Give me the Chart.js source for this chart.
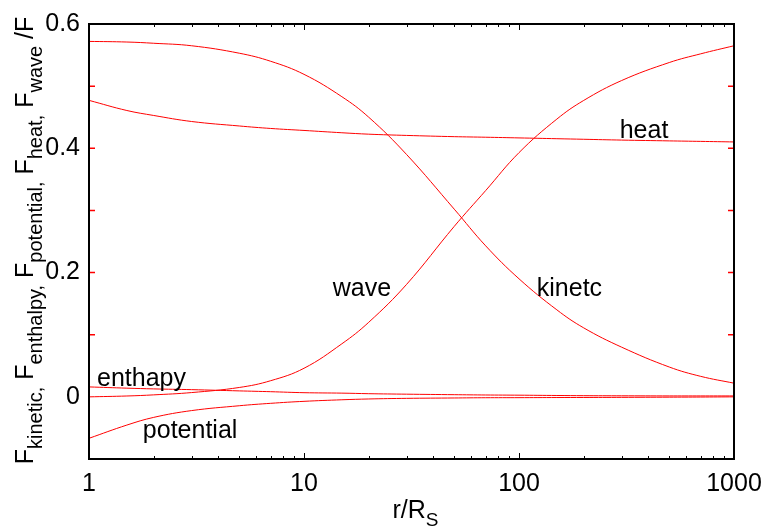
<!DOCTYPE html>
<html>
<head>
<meta charset="utf-8">
<script src="https://cdn.jsdelivr.net/npm/chart.js@4"></script>
<style>
  html, body { margin: 0; padding: 0; background: #fff; }
</style>
</head>
<body>
<canvas id="flux" width="772" height="531"></canvas>
<script>
// r / R_s sample points
const radius = [1, 1.5, 2, 3, 5, 7, 10, 15, 20, 30, 50, 70, 100, 150, 200, 300, 500, 700, 1000];
// energy flux fractions F_x / F
const waveFlux = [0.572, 0.571, 0.569, 0.565, 0.553, 0.540, 0.519, 0.483, 0.450, 0.390, 0.302, 0.243, 0.190, 0.140, 0.111, 0.080, 0.048, 0.033, 0.022];
const kineticFlux = [0.0, 0.0014, 0.0032, 0.0069, 0.0151, 0.026, 0.046, 0.0854, 0.120, 0.181, 0.2744, 0.332, 0.393, 0.447, 0.477, 0.509, 0.538, 0.552, 0.565];
const heatFlux = [0.4771, 0.4608, 0.4528, 0.4431, 0.4359, 0.4319, 0.4287, 0.4250, 0.4227, 0.4207, 0.4187, 0.4178, 0.4167, 0.4154, 0.4145, 0.4132, 0.4119, 0.4111, 0.4102];
const enthalpyFlux = [0.016, 0.014, 0.0128, 0.0116, 0.0096, 0.0083, 0.0067, 0.006, 0.0051, 0.0043, 0.0035, 0.003, 0.0027, 0.0022, 0.0019, 0.0017, 0.0015, 0.0015, 0.0015];
const potentialFlux = [-0.0667, -0.0454, -0.0330, -0.0221, -0.0143, -0.0104, -0.0072, -0.0047, -0.0034, -0.0024, -0.0018, -0.0014, -0.0013, -0.0011, -0.001, -0.0008, -0.0005, -0.0003, 0.0];

const xTicks = [1, 10, 100, 1000];
const yTicks = [0, 0.2, 0.4, 0.6];
const yMinorTicks = [0.1, 0.2, 0.3, 0.4, 0.5];

// curve labels: [text, r, flux]
const curveLabels = [
  ['heat', 294, 0.417],
  ['wave', 13.6, 0.163],
  ['kinetc', 121, 0.163],
  ['enthapy', 1.09, 0.0172],
  ['potential', 1.78, -0.0667]
];

const FONT = '"Liberation Sans", Arial, sans-serif';

function series(values) {
  return radius.map((r, i) => ({ x: r, y: values[i] }));
}

function line(values) {
  return {
    data: series(values),
    borderColor: '#ff0000',
    borderWidth: 1,
    pointRadius: 0,
    tension: 0.4,
    fill: false
  };
}

// text with subscripts: list of [normal, subscript] pairs, centred on 0
function drawSubText(ctx, parts, size, subSize, drop) {
  let w = 0;
  parts.forEach(([a, b]) => {
    ctx.font = size + 'px ' + FONT;
    w += ctx.measureText(a).width;
    ctx.font = subSize + 'px ' + FONT;
    w += ctx.measureText(b).width;
  });
  let x = -w / 2;
  parts.forEach(([a, b]) => {
    ctx.font = size + 'px ' + FONT;
    ctx.fillText(a, x, 0);
    x += ctx.measureText(a).width;
    ctx.font = subSize + 'px ' + FONT;
    ctx.fillText(b, x, drop);
    x += ctx.measureText(b).width;
  });
}

const decorations = {
  id: 'decorations',
  afterDatasetsDraw(chart) {
    const { ctx, chartArea: a, scales: { x, y } } = chart;
    ctx.save();

    // y ticks, inward on both sides
    ctx.strokeStyle = '#ff0000';
    ctx.lineWidth = 1.5;
    yMinorTicks.forEach(v => {
      const py = y.getPixelForValue(v);
      ctx.beginPath();
      ctx.moveTo(a.left, py); ctx.lineTo(a.left + 6, py);
      ctx.moveTo(a.right, py); ctx.lineTo(a.right - 6, py);
      ctx.stroke();
    });

    // x ticks, log decades with minor marks
    ctx.strokeStyle = '#000';
    ctx.lineWidth = 1;
    for (let d = 1; d <= 1000; d *= 10) {
      for (let k = 1; k <= 9; k++) {
        const v = d * k;
        if (v > 1000) break;
        const px = Math.round(x.getPixelForValue(v)) + 0.5;
        const len = k === 1 ? 6 : 3;
        ctx.beginPath();
        ctx.moveTo(px, a.bottom); ctx.lineTo(px, a.bottom - len);
        ctx.moveTo(px, a.top); ctx.lineTo(px, a.top + len);
        ctx.stroke();
      }
    }

    // frame
    ctx.lineWidth = 2;
    ctx.strokeRect(a.left, a.top, a.right - a.left, a.bottom - a.top);

    // curve labels
    ctx.fillStyle = '#000';
    ctx.font = '25px ' + FONT;
    ctx.textBaseline = 'alphabetic';
    ctx.textAlign = 'left';
    curveLabels.forEach(([t, r, f]) => {
      ctx.fillText(t, x.getPixelForValue(r), y.getPixelForValue(f));
    });

    // x axis title
    ctx.save();
    ctx.translate((a.left + a.right) / 2 + 4, 518);
    drawSubText(ctx, [['r/R', 'S']], 25, 19, 8);
    ctx.restore();

    // y axis title
    ctx.save();
    ctx.translate(33, (a.top + a.bottom) / 2 - 1);
    ctx.rotate(-Math.PI / 2);
    drawSubText(ctx, [
      ['F', 'kinetic,'],
      [' F', 'enthalpy,'],
      [' F', 'potential,'],
      [' F', 'heat,'],
      [' F', 'wave'],
      [' /F', '']
    ], 25, 20, 9);
    ctx.restore();

    ctx.restore();
  }
};

new Chart(document.getElementById('flux').getContext('2d'), {
  type: 'line',
  data: {
    datasets: [
      line(waveFlux),
      line(kineticFlux),
      line(heatFlux),
      line(enthalpyFlux),
      line(potentialFlux)
    ]
  },
  options: {
    responsive: false,
    animation: false,
    layout: { padding: { top: 23, right: 38, left: 0, bottom: 0 } },
    plugins: {
      legend: { display: false },
      tooltip: { enabled: false }
    },
    scales: {
      x: {
        type: 'logarithmic',
        min: 1,
        max: 1000,
        grid: { display: false, drawTicks: false },
        border: { display: false },
        afterBuildTicks: s => { s.ticks = xTicks.map(v => ({ value: v })); },
        afterFit: s => { s.height = 72; },
        ticks: {
          color: '#000',
          font: { family: FONT, size: 25 },
          padding: 10,
          maxRotation: 0,
          callback: v => String(v)
        }
      },
      y: {
        type: 'linear',
        min: -0.1,
        max: 0.6,
        grid: { display: false, drawTicks: false },
        border: { display: false },
        afterBuildTicks: s => { s.ticks = yTicks.map(v => ({ value: v })); },
        afterFit: s => { s.width = 89; },
        ticks: {
          color: '#000',
          font: { family: FONT, size: 25 },
          padding: 9,
          callback: v => (v === 0 ? '0' : v.toFixed(1))
        }
      }
    }
  },
  plugins: [decorations]
});
</script>
</body>
</html>
